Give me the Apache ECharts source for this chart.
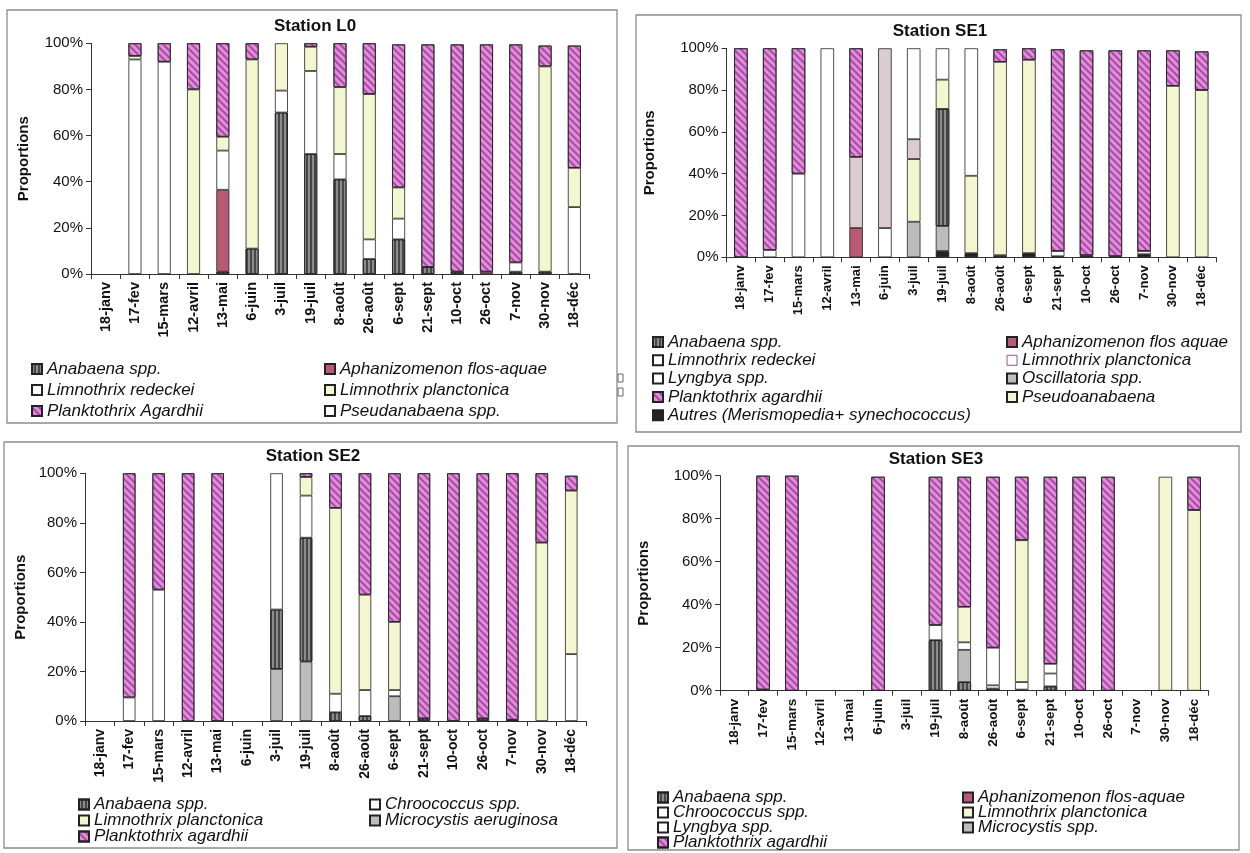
<!DOCTYPE html>
<html><head><meta charset="utf-8">
<script src="https://cdn.jsdelivr.net/npm/echarts@6/dist/echarts.min.js"></script>
<style>html,body{margin:0;padding:0;background:#fff}#c{width:1250px;height:853px}</style>
</head><body><div id="c"></div>
<script>
// ---------- categories & ticks ----------
const dates = ['18-janv','17-fev','15-mars','12-avril','13-mai','6-juin','3-juil','19-juil','8-août','26-août','6-sept','21-sept','10-oct','26-oct','7-nov','30-nov','18-déc'];
const yTickValues = [0, 20, 40, 60, 80, 100];
const stationTitles = ['Station L0', 'Station SE1', 'Station SE2', 'Station SE3'];
const yAxisName = 'Proportions';

// ---------- Station L0 (percent) ----------
const L0_anabaena       = [0,0,0,0,1,11,70,52,41,6.5,15,3,1,0,1,1,0];
const L0_aphanizomenon  = [0,0,0,0,35.5,0,0,0,0,0,0,0,0,1,0,0,0];
const L0_redeckei       = [0,93,92,0,17,0,9.5,36,11,8.5,9,0,0,0,4,0,29];
const L0_planctonica    = [0,1.5,0,80,6,82,20.5,10.5,29,63,13.5,0,0,0,0,89,17];
const L0_pseudanabaena  = [0,0,0,0,0,0,0,0,0,0,0,0,0,0,0,0,0];
const L0_planktothrix   = [0,5.5,8,20,40.5,7,0,1.5,19,22,62,96.5,98.5,98.5,94.5,9,53];

// ---------- Station SE1 ----------
const SE1_autres        = [0,0,0,0,0,0,0,3,2,1,2,0.5,1,0.5,1.5,0,0];
const SE1_oscillatoria  = [0,0,0,0,0,0,17,12,0,0,0,0,0,0,0,0,0];
const SE1_anabaena      = [0,0,0,0,0,0,0,56,0,0,0,0,0,0,0,0,0];
const SE1_aphanizomenon = [0,0,0,0,14,0,0,0,0,0,0,0,0,0,0,0,0];
const SE1_redeckei      = [0,3.5,40,100,0,14,0,0,0,0,0,2.5,0,0,1.5,0,0];
const SE1_pseudoanabaena= [0,0,0,0,0,0,30,14,37,92.5,92.5,0,0,0,0,82,80];
const SE1_planctonica   = [0,0,0,0,34,86,9.5,0,0,0,0,0,0,0,0,0,0];
const SE1_lyngbya       = [0,0,0,0,0,0,43.5,15,61,0,0,0,0,0,0,0,0];
const SE1_planktothrix  = [100,96.5,60,0,52,0,0,0,0,6,5.5,96.5,98,98.5,96,17,18.5];

// ---------- Station SE2 ----------
const SE2_microcystis   = [0,0,0,0,0,0,21,24,0,0,10,0,0,0,0,0,0];
const SE2_anabaena      = [0,0,0,0,0,0,24,50,3.5,2,0,1,0,1,0.5,0,0];
const SE2_chroococcus   = [0,9.5,53,0,0,0,55,17,7.5,10.5,2.5,0,0,0,0,0,27];
const SE2_planctonica   = [0,0,0,0,0,0,0,7.5,75,38.5,27.5,0,0,0,0,72,66];
const SE2_planktothrix  = [0,90.5,47,100,100,0,0,1.5,14,49,60,99,100,99,99.5,28,6];

// ---------- Station SE3 ----------
const SE3_anabaena      = [0,0.5,0,0,0,0,0,23.5,4,1,0.5,2,0,0,0,0,0];
const SE3_microcystis   = [0,0,0,0,0,0,0,0,15,0,0,0,0,0,0,0,0];
const SE3_chroococcus   = [0,0,0,0,0,0,0,7,3.5,1.5,3.5,6,0,0,0,0,0];
const SE3_lyngbya       = [0,0,0,0,0,0,0,0,0,17.5,0,4.5,0,0,0,0,0];
const SE3_planctonica   = [0,0,0,0,0,0,0,0,16.5,0,66,0,0,0,0,99.5,84];
const SE3_aphanizomenon = [0,0,0,0,0,0,0,0,0,0,0,0,0,0,0,0,0];
const SE3_planktothrix  = [0,99.5,100,0,0,99.5,0,69,60.5,79.5,29.5,87,99.5,99.5,0,0,15.5];

// ---------- styles ----------
const FONT = '"Liberation Sans", Arial, sans-serif';
const HATCH = {symbol:'rect', symbolSize:1, color:'rgba(95,45,140,0.6)', dashArrayX:[1,0], dashArrayY:[1.3,2.3], rotation:Math.PI/4};
const VSTRIPE = {symbol:'rect', symbolSize:1, color:'rgba(25,25,25,0.6)', dashArrayX:[1,0], dashArrayY:[1.3,1.6], rotation:Math.PI/2};
const ST = {
  anabaena:   {color:'#8c8c8c', decal:VSTRIPE},
  aphan:      {color:'#b85a74'},
  white:      {color:'#ffffff'},
  yellow:     {color:'#f4f6cf'},
  plank:      {color:'#ec88d6', decal:HATCH},
  pinkgray:   {color:'#dccbcf'},
  gray:       {color:'#bcbcbc'},
  black:      {color:'#222222'}
};

const grids = [
  {left:91,    top:43.3,  width:498,   height:230.7},
  {left:726.5, top:48.3,  width:489.6, height:209},
  {left:85,    top:473.3, width:501,   height:247.7},
  {left:720,   top:475.7, width:488.5, height:215}
];
const labelSize = [14.5, 13, 14, 13.5];
const nameGaps = [60, 69, 57, 69];
const barW = [13, 13.5, 12.5, 13.5];

function mk(name, values, gi, style) {
  return {
    type:'bar', name, stack:'st'+gi, xAxisIndex:gi, yAxisIndex:gi, barWidth:barW[gi],
    data: values.map(v => v === 0 ? '-' : v),
    itemStyle: Object.assign({borderColor:'#222', borderWidth:0.8}, style),
    emphasis:{disabled:true}
  };
}

const series = [
  mk('Anabaena spp.', L0_anabaena, 0, ST.anabaena),
  mk('Aphanizomenon flos-aquae', L0_aphanizomenon, 0, ST.aphan),
  mk('Limnothrix redeckei', L0_redeckei, 0, ST.white),
  mk('Limnothrix planctonica', L0_planctonica, 0, ST.yellow),
  mk('Pseudanabaena spp.', L0_pseudanabaena, 0, ST.white),
  mk('Planktothrix Agardhii', L0_planktothrix, 0, ST.plank),

  mk('Autres (Merismopedia+ synechococcus)', SE1_autres, 1, ST.black),
  mk('Oscillatoria spp.', SE1_oscillatoria, 1, ST.gray),
  mk('Anabaena spp.', SE1_anabaena, 1, ST.anabaena),
  mk('Aphanizomenon flos aquae', SE1_aphanizomenon, 1, ST.aphan),
  mk('Limnothrix redeckei', SE1_redeckei, 1, ST.white),
  mk('Pseudoanabaena', SE1_pseudoanabaena, 1, ST.yellow),
  mk('Limnothrix planctonica', SE1_planctonica, 1, ST.pinkgray),
  mk('Lyngbya spp.', SE1_lyngbya, 1, ST.white),
  mk('Planktothrix agardhii', SE1_planktothrix, 1, ST.plank),

  mk('Microcystis aeruginosa', SE2_microcystis, 2, ST.gray),
  mk('Anabaena spp.', SE2_anabaena, 2, ST.anabaena),
  mk('Chroococcus spp.', SE2_chroococcus, 2, ST.white),
  mk('Limnothrix planctonica', SE2_planctonica, 2, ST.yellow),
  mk('Planktothrix agardhii', SE2_planktothrix, 2, ST.plank),

  mk('Anabaena spp.', SE3_anabaena, 3, ST.anabaena),
  mk('Microcystis spp.', SE3_microcystis, 3, ST.gray),
  mk('Chroococcus spp.', SE3_chroococcus, 3, ST.white),
  mk('Lyngbya spp.', SE3_lyngbya, 3, ST.white),
  mk('Limnothrix planctonica', SE3_planctonica, 3, ST.yellow),
  mk('Aphanizomenon flos-aquae', SE3_aphanizomenon, 3, ST.aphan),
  mk('Planktothrix agardhii', SE3_planktothrix, 3, ST.plank)
];

function legend(left, top, lineH, gap, names) {
  return {
    orient:'vertical', left, top, height:130, padding:0, itemGap:gap, itemWidth:10, itemHeight:10, icon:'rect',
    selectedMode:false,
    textStyle:{fontFamily:FONT, fontStyle:'italic', fontSize:17, color:'#111', lineHeight:lineH},
    data:names
  };
}
const legends = [
  legend(31, 360, 18, 3, ['Anabaena spp.','Limnothrix redeckei','Planktothrix Agardhii']),
  legend(324, 360, 18, 3, ['Aphanizomenon flos-aquae','Limnothrix planctonica','Pseudanabaena spp.']),
  legend(652, 333.5, 17, 1.3, ['Anabaena spp.','Limnothrix redeckei','Lyngbya spp.','Planktothrix agardhii','Autres (Merismopedia+ synechococcus)']),
  legend(1006, 333.5, 17, 1.3, ['Aphanizomenon flos aquae',
     {name:'Limnothrix planctonica', itemStyle:{color:'#ffffff', borderColor:'#9a5a70', borderWidth:1, decal:'none'}},
     'Oscillatoria spp.','Pseudoanabaena']),
  legend(78, 796, 16, -1, ['Anabaena spp.','Limnothrix planctonica','Planktothrix agardhii']),
  legend(369, 796, 16, -1, ['Chroococcus spp.','Microcystis aeruginosa']),
  legend(657, 789, 15, -2, ['Anabaena spp.','Chroococcus spp.','Lyngbya spp.','Planktothrix agardhii']),
  legend(962, 789, 15, -2, ['Aphanizomenon flos-aquae','Limnothrix planctonica','Microcystis spp.'])
];

const xAxes = grids.map((g, i) => ({
  type:'category', gridIndex:i, data:dates,
  axisLine:{lineStyle:{color:'#333', width:1}},
  axisTick:{show:true, length:5, lineStyle:{color:'#333'}},
  axisLabel:{rotate:90, interval:0, fontFamily:FONT, fontWeight:'bold', fontSize:labelSize[i], color:'#111', margin:8},
  splitLine:{show:false}
}));
const yAxes = grids.map((g, i) => ({
  type:'value', gridIndex:i, min:yTickValues[0], max:yTickValues[yTickValues.length-1],
  interval:yTickValues[1]-yTickValues[0],
  axisLine:{show:true, lineStyle:{color:'#333', width:1}},
  axisTick:{show:true, length:5, lineStyle:{color:'#333'}},
  splitLine:{show:false},
  axisLabel:{formatter:'{value}%', fontFamily:FONT, fontSize:15, color:'#111', margin:8},
  name:yAxisName, nameLocation:'middle', nameGap:nameGaps[i],
  nameTextStyle:{fontFamily:FONT, fontWeight:'bold', fontSize:15, color:'#111'}
}));

const titlePos = [[315, 26], [940, 31], [313, 456], [936, 459]];
const boxes = [[7, 10, 610, 413], [636, 15, 605, 417], [4, 442, 613, 406], [628, 446, 611, 404]];
const graphics = [];
boxes.forEach(b => graphics.push({type:'rect', silent:true, z:-1,
  shape:{x:b[0], y:b[1], width:b[2], height:b[3]},
  style:{fill:'none', stroke:'#8c8c8c', lineWidth:1.3}}));
stationTitles.forEach((t, i) => graphics.push({type:'text', silent:true,
  x:titlePos[i][0], y:titlePos[i][1],
  style:{text:t, font:'bold 17px ' + FONT, fill:'#111', textAlign:'center', textVerticalAlign:'middle', align:'center', verticalAlign:'middle'}}));
// cut-off legend boxes at the right edge of the L0 panel
[[618, 374], [618, 388]].forEach(p => graphics.push({type:'rect', silent:true,
  shape:{x:p[0], y:p[1], width:5, height:8}, style:{fill:'none', stroke:'#666', lineWidth:1}}));

const chart = echarts.init(document.getElementById('c'), null, {renderer:'canvas'});
chart.setOption({
  backgroundColor:'#ffffff',
  animation:false,
  grid: grids.map(g => Object.assign({outerBoundsMode:'none', containLabel:false}, g)),
  xAxis: xAxes,
  yAxis: yAxes,
  legend: legends,
  graphic: graphics,
  series
});
</script></body></html>
